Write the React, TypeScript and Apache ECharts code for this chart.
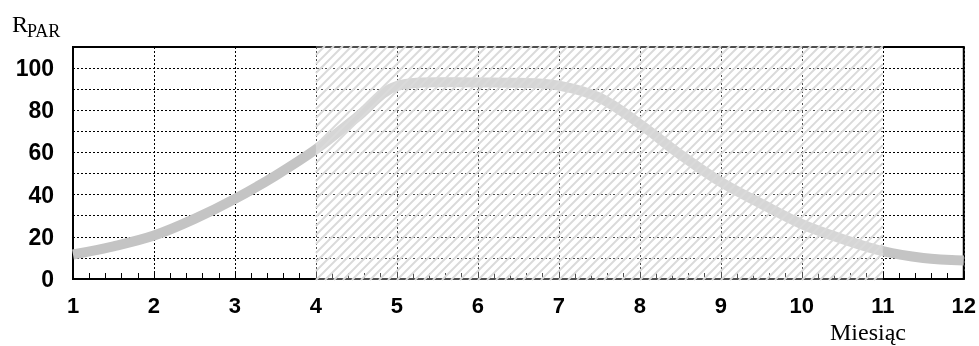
import React, { useEffect, useRef } from 'react';
import * as echarts from 'echarts';

// Month positions where the R_PAR curve was read
const monthPoints = [1, 1.5, 2, 2.5, 3, 3.5, 4, 4.5, 5, 5.5, 6, 6.5, 7, 7.5, 8, 8.5, 9, 9.5, 10, 10.5, 11, 11.5, 12];
// R_PAR values
const rParValues = [11.6, 15.5, 20.6, 28.5, 38, 49, 61.5, 76.5, 91.5, 93.3, 93.2, 93, 91.7, 86, 73.5, 59, 46, 35.7, 26, 19, 13.2, 10, 8.8];
// Hatched period (months)
const hatchStart = 4;
const hatchEnd = 11;
// Labelled y ticks
const yTickLabels = [0, 20, 40, 60, 80, 100];

const SANS = '"Liberation Sans", Arial, sans-serif';
const SERIF = '"Liberation Serif", "Times New Roman", serif';

export default function App() {
  const ref = useRef<HTMLDivElement>(null);

  useEffect(() => {
    const chart = echarts.init(ref.current!, null, { renderer: 'svg' });
    chart.setOption({
      animation: false,
      grid: {
        left: 73,
        right: 14,
        top: 47,
        bottom: 67,
        show: true,
        borderColor: '#000',
        borderWidth: 2,
        backgroundColor: 'transparent',
      },
      xAxis: {
        type: 'value',
        min: 1,
        max: 12,
        interval: 1,
        axisLine: { show: true, lineStyle: { color: '#000', width: 2 } },
        axisTick: { show: true, inside: true, length: 6, lineStyle: { color: '#000', width: 1 } },
        minorTick: { show: true, splitNumber: 5, length: 6, lineStyle: { color: '#000', width: 1 } },
        splitLine: { show: true, lineStyle: { color: '#000', width: 1, type: [2, 2] } },
        axisLabel: {
          color: '#000',
          fontFamily: SANS,
          fontWeight: 'bold',
          fontSize: 22,
          margin: 15,
          showMinLabel: true,
          showMaxLabel: true,
        },
      },
      yAxis: {
        type: 'value',
        min: 0,
        max: 110,
        interval: 10,
        axisLine: { show: true, lineStyle: { color: '#000', width: 2 } },
        axisTick: { show: false },
        splitLine: { show: true, lineStyle: { color: '#000', width: 1, type: [2, 2] } },
        axisLabel: {
          color: '#000',
          fontFamily: SANS,
          fontWeight: 'bold',
          fontSize: 23,
          margin: 19,
          formatter: (v: number) => (yTickLabels.indexOf(v) >= 0 ? String(v) : ''),
        },
      },
      series: [
        {
          type: 'line',
          data: monthPoints.map((m, i) => [m, rParValues[i]]),
          smooth: 0.35,
          showSymbol: false,
          lineStyle: { color: '#c4c4c4', width: 10, cap: 'butt' },
          z: 3,
        },
        {
          type: 'custom',
          silent: true,
          z: 10,
          data: [[hatchStart, hatchEnd]],
          renderItem: (params: any, api: any) => {
            const xs = api.value(0);
            const xe = api.value(1);
            const p0 = api.coord([xs, 110]);
            const p1 = api.coord([xe, 0]);
            const x0 = p0[0];
            const y0 = p0[1] - 1;
            const x1 = p1[0];
            const y1 = p1[1] + 1;
            const children: any[] = [
              {
                type: 'rect',
                shape: { x: x0, y: y0, width: x1 - x0, height: y1 - y0 },
                style: { fill: 'rgba(255,255,255,0.3)' },
              },
            ];
            const step = 9;
            for (let c = x0 + y0; c <= x1 + y1; c += step) {
              const xa = Math.max(x0, c - y1);
              const xb = Math.min(x1, c - y0);
              if (xb > xa) {
                children.push({
                  type: 'line',
                  shape: { x1: xa, y1: c - xa, x2: xb, y2: c - xb },
                  style: { stroke: '#dadada', lineWidth: 2 },
                });
              }
            }
            return { type: 'group', children };
          },
        },
      ],
      graphic: [
        {
          type: 'text',
          x: 12,
          y: 23.5,
          style: { text: 'R', fontFamily: SERIF, fontSize: 24, fill: '#000', verticalAlign: 'middle' },
        },
        {
          type: 'text',
          x: 27,
          y: 31,
          style: { text: 'PAR', fontFamily: SERIF, fontSize: 18, fill: '#000', verticalAlign: 'middle' },
        },
        {
          type: 'text',
          x: 830,
          y: 332,
          style: { text: 'Miesiąc', fontFamily: SERIF, fontSize: 24, fill: '#000', verticalAlign: 'middle' },
        },
      ],
    });
    return () => chart.dispose();
  }, []);

  return <div ref={ref} style={{ position: 'fixed', left: 0, top: 0, width: 979, height: 346 }} />;
}
